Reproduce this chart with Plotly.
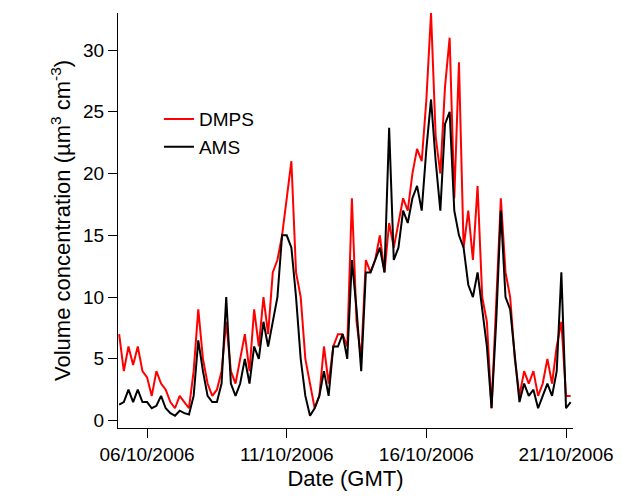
import pandas as pd
import plotly.graph_objects as go

# 4-hourly samples starting 05/10/2006 00:00 (GMT)
dmps = [7, 4, 6, 4.5, 6, 4,
        3.5, 2, 4, 3, 2.5, 1.5,
        1, 2, 1.5, 1, 4, 9,
        5, 3, 2, 2.5, 4, 8,
        4, 3, 5, 7, 4, 9,
        6, 10, 7, 12, 13, 15,
        18, 21, 12, 10, 5, 3,
        1, 2, 6, 3, 6, 7,
        7, 6, 18, 8, 5, 13,
        12, 13, 15, 12, 16, 14,
        16, 18, 17, 20, 22, 21,
        26, 33, 23, 20, 27, 31,
        18, 29, 14, 17, 13, 19,
        10, 8, 1, 10, 18, 12,
        10, 5, 2, 4, 3, 4,
        2, 3, 5, 3, 6, 8,
        2, 2]
ams = [1.3, 1.5, 2.5, 1.5, 2.5, 1.5,
       1.5, 1, 1.2, 2, 1, 0.6,
       0.4, 0.8, 0.6, 0.5, 2, 6.5,
       4, 2, 1.5, 1.5, 3, 10,
       3, 2, 3, 5, 3, 6,
       5, 8, 6, 8, 10, 15,
       15, 14, 10, 5, 2, 0.4,
       1, 2, 4, 2, 6, 6,
       7, 5, 13, 9, 4, 12,
       12, 13, 14, 12, 23.7, 13,
       14, 17, 16, 18, 19, 17,
       22, 26, 21, 17, 24, 25,
       17, 15, 14, 11, 10, 12,
       9, 6, 1, 8, 17, 10,
       9, 5, 1.5, 3, 2, 2.5,
       1, 2, 3, 2, 4, 12,
       1, 1.5]
times = pd.date_range("2006-10-05 00:00", periods=len(dmps), freq="4h")

tick_dates = ["2006-10-06", "2006-10-11", "2006-10-16", "2006-10-21"]
tick_labels = ["06/10/2006", "11/10/2006", "16/10/2006", "21/10/2006"]

fig = go.Figure()
fig.add_trace(go.Scatter(x=times, y=dmps, name="DMPS", mode="lines",
                         line=dict(color="#ff0000", width=2)))
fig.add_trace(go.Scatter(x=times, y=ams, name="AMS", mode="lines",
                         line=dict(color="#000000", width=2)))

fig.update_layout(
    width=612, height=488,
    margin=dict(l=110, r=47, t=5, b=68),
    plot_bgcolor="white", paper_bgcolor="white",
    font=dict(family="Liberation Sans, Arial", size=18, color="black"),
    legend=dict(x=0.09, y=0.79, xanchor="left", yanchor="top",
                bgcolor="rgba(0,0,0,0)", font=dict(size=19), tracegroupgap=0),
    xaxis=dict(range=["2006-10-04 23:00", "2006-10-21 06:00"],
               tickvals=tick_dates, ticktext=tick_labels, automargin=False,
               showgrid=False, zeroline=False, showline=True, linecolor="black",
               ticks="outside", ticklen=9, tickcolor="black",
               tickfont=dict(size=19),
               title=dict(text="Date (GMT)", standoff=6)),
    yaxis=dict(range=[-0.6, 33], tickvals=[0, 5, 10, 15, 20, 25, 30], automargin=False,
               showgrid=False, zeroline=False, showline=True, linecolor="black",
               ticks="outside", ticklen=9, tickcolor="black",
               tickfont=dict(size=19),
               title=dict(text="Volume concentration (µm<sup>3</sup> cm<sup>-3</sup>)", standoff=6)),
)

fig.write_html("out.html")
